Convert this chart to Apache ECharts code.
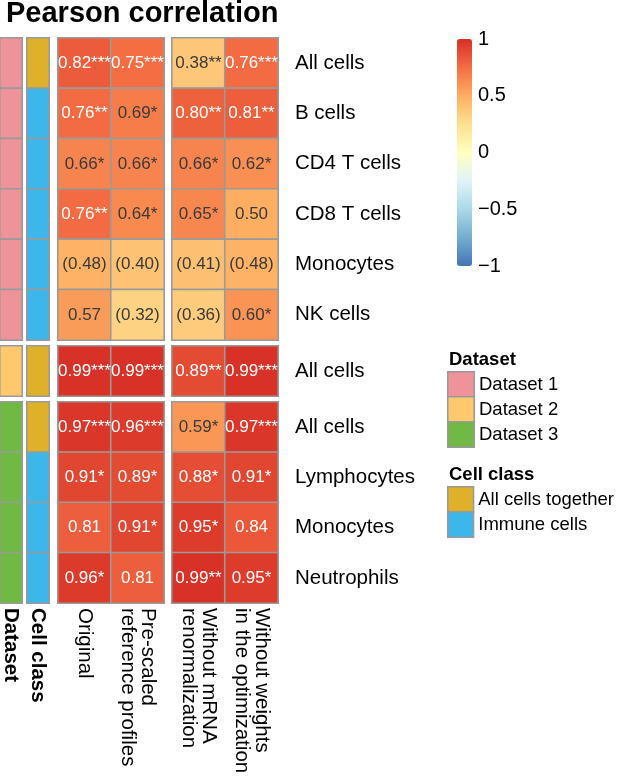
<!DOCTYPE html>
<html><head><meta charset="utf-8">
<script src="https://cdn.jsdelivr.net/npm/echarts@6/dist/echarts.min.js"></script>
<style>html,body{margin:0;padding:0;background:#fff}#c{width:617px;height:779px}</style>
</head><body><div id="c"></div>
<script>
// ---- data ----
const methods = ['Original', 'Pre-scaled\nreference profiles', 'Without mRNA\nrenormalization', 'Without weights\nin the optimization'];
const rowsBlock1 = ['All cells', 'B cells', 'CD4 T cells', 'CD8 T cells', 'Monocytes', 'NK cells'];
const rowsBlock2 = ['All cells'];
const rowsBlock3 = ['All cells', 'Lymphocytes', 'Monocytes', 'Neutrophils'];
const datasetOfRow = ['Dataset 1','Dataset 1','Dataset 1','Dataset 1','Dataset 1','Dataset 1','Dataset 2','Dataset 3','Dataset 3','Dataset 3','Dataset 3'];
const cellClassOfRow = ['All cells together','Immune cells','Immune cells','Immune cells','Immune cells','Immune cells','All cells together','All cells together','Immune cells','Immune cells','Immune cells'];
const original    = [0.82, 0.76, 0.66, 0.76, 0.48, 0.57, 0.99, 0.97, 0.91, 0.81, 0.96];
const preScaled   = [0.75, 0.69, 0.66, 0.64, 0.40, 0.32, 0.99, 0.96, 0.89, 0.91, 0.81];
const noRenorm    = [0.38, 0.80, 0.66, 0.65, 0.41, 0.36, 0.89, 0.59, 0.88, 0.95, 0.99];
const noWeights   = [0.76, 0.81, 0.62, 0.50, 0.48, 0.60, 0.99, 0.97, 0.91, 0.84, 0.95];
// significance marks ('ns' = shown in parentheses)
const originalSig  = ['***','**','*','**','ns','','***','***','*','','*'];
const preScaledSig = ['***','*','*','*','ns','ns','***','***','*','*',''];
const noRenormSig  = ['**','**','*','*','ns','ns','**','*','*','*','**'];
const noWeightsSig = ['***','**','*','','ns','*','***','***','*','','*'];
const datasetNames = ['Dataset 1', 'Dataset 2', 'Dataset 3'];
const cellClassNames = ['All cells together', 'Immune cells'];
const colorTicks = [-1, -0.5, 0, 0.5, 1];

// ---- styles ----
const datasetColors = {'Dataset 1':'#ef939b','Dataset 2':'#fdc96c','Dataset 3':'#6fb944'};
const cellClassColors = {'All cells together':'#dfb12b','Immune cells':'#3cb6eb'};
const FONT = '"Liberation Sans", Arial, Helvetica, sans-serif';
const BORDER = '#9a9a9a';

const values = [original, preScaled, noRenorm, noWeights];
const sigs = [originalSig, preScaledSig, noRenormSig, noWeightsSig];
const blocks = [
  {rows: rowsBlock1, start: 0, top: 38, height: 302},
  {rows: rowsBlock2, start: 6, top: 346, height: 50},
  {rows: rowsBlock3, start: 7, top: 402, height: 201}
];
const groups = [
  {kind: 'dataset', left: 0, width: 22, label: 'Dataset'},
  {kind: 'cellclass', left: 27, width: 22, label: 'Cell class'},
  {kind: 'values', left: 58, width: 106, cols: [0, 1]},
  {kind: 'values', left: 172, width: 106, cols: [2, 3]}
];

const grid = [], xAxis = [], yAxis = [], series = [];
const valueSeriesIdx = [];

function fmt(v, s) {
  const t = v.toFixed(2);
  return s === 'ns' ? '(' + t + ')' : t + s;
}

blocks.forEach((b, bi) => {
  groups.forEach((g, gi) => {
    const idx = grid.length;
    const isBottom = bi === blocks.length - 1;
    const isRight = gi === groups.length - 1;
    grid.push({left: g.left, top: b.top, width: g.width, height: b.height, containLabel: false});
    let xCats;
    if (g.kind === 'values') xCats = g.cols.map(c => methods[c]);
    else xCats = [g.label];
    xAxis.push({
      type: 'category', gridIndex: idx, data: xCats, position: 'bottom',
      axisLine: {show: false}, axisTick: {show: false}, splitLine: {show: false},
      axisLabel: {
        show: isBottom, rotate: -90, margin: 5, interval: 0,
        fontFamily: FONT, fontSize: 20.5, lineHeight: 20, color: '#000',
        fontWeight: g.kind === 'values' ? 'normal' : 'bold'
      }
    });
    yAxis.push({
      type: 'category', gridIndex: idx, data: b.rows, inverse: true, position: 'right',
      axisLine: {show: false}, axisTick: {show: false}, splitLine: {show: false},
      axisLabel: {show: isRight, margin: 17, fontFamily: FONT, fontSize: 20.5, color: '#000'}
    });
    let data = [];
    if (g.kind === 'values') {
      g.cols.forEach((c, xi) => {
        b.rows.forEach((r, yi) => {
          const v = values[c][b.start + yi];
          data.push({
            value: [xi, yi, v, fmt(v, sigs[c][b.start + yi])],
            label: {color: v >= 0.7 ? '#ffffff' : '#3a3a3a'}
          });
        });
      });
      valueSeriesIdx.push(series.length);
      series.push({
        type: 'heatmap', xAxisIndex: idx, yAxisIndex: idx, data: data,
        itemStyle: {borderColor: BORDER, borderWidth: 1.6},
        label: {show: true, formatter: p => p.value[3], fontFamily: FONT, fontSize: 17},
        emphasis: {disabled: true}
      });
    } else {
      b.rows.forEach((r, yi) => {
        const name = g.kind === 'dataset' ? datasetOfRow[b.start + yi] : cellClassOfRow[b.start + yi];
        const col = g.kind === 'dataset' ? datasetColors[name] : cellClassColors[name];
        data.push({value: [0, yi, 0], itemStyle: {color: col}});
      });
      series.push({
        type: 'heatmap', xAxisIndex: idx, yAxisIndex: idx, data: data,
        itemStyle: {borderColor: BORDER, borderWidth: 1.6},
        emphasis: {disabled: true}
      });
    }
  });
});

// colour bar tick axis
const cbIdx = grid.length;
grid.push({left: 457, top: 39, width: 15, height: 227});
xAxis.push({type: 'category', gridIndex: cbIdx, data: [''], show: false});
yAxis.push({
  type: 'value', gridIndex: cbIdx, min: colorTicks[0], max: colorTicks[colorTicks.length - 1], interval: 0.5,
  position: 'right', axisLine: {show: false}, axisTick: {show: false}, splitLine: {show: false},
  axisLabel: {margin: 6, fontFamily: FONT, fontSize: 20, color: '#000',
    formatter: v => String(v).replace('-', '\u2212'), showMinLabel: true, showMaxLabel: true}
});
series.push({type: 'line', xAxisIndex: cbIdx, yAxisIndex: cbIdx, data: [], silent: true});

// legend boxes
function legendGrid(names, colors, top) {
  const idx = grid.length;
  grid.push({left: 448, top: top, width: 26, height: 25 * names.length});
  xAxis.push({type: 'category', gridIndex: idx, data: [''], show: false});
  yAxis.push({
    type: 'category', gridIndex: idx, data: names, inverse: true, position: 'right',
    axisLine: {show: false}, axisTick: {show: false}, splitLine: {show: false},
    axisLabel: {margin: 5, fontFamily: FONT, fontSize: 18.5, color: '#000'}
  });
  series.push({
    type: 'heatmap', xAxisIndex: idx, yAxisIndex: idx,
    data: names.map((n, i) => ({value: [0, i, 0], itemStyle: {color: colors[n]}})),
    itemStyle: {borderColor: BORDER, borderWidth: 1.6},
    emphasis: {disabled: true}
  });
}
legendGrid(datasetNames, datasetColors, 372);
legendGrid(cellClassNames, cellClassColors, 487);

const option = {
  animation: false,
  backgroundColor: '#ffffff',
  title: [
    {text: 'Pearson correlation', left: 6, top: -1, padding: 0,
      textStyle: {fontFamily: FONT, fontSize: 29, fontWeight: 'bold', color: '#000'}},
    {text: 'Dataset', left: 449, top: 350, padding: 0,
      textStyle: {fontFamily: FONT, fontSize: 18.5, fontWeight: 'bold', color: '#000'}},
    {text: 'Cell class', left: 449, top: 465, padding: 0,
      textStyle: {fontFamily: FONT, fontSize: 18.5, fontWeight: 'bold', color: '#000'}}
  ],
  visualMap: {
    type: 'continuous', min: -1, max: 1, dimension: 2, seriesIndex: valueSeriesIdx,
    left: 457, top: 39, itemWidth: 15, itemHeight: 227, padding: 0,
    orient: 'vertical', calculable: false, text: null, showLabel: false,
    inRange: {color: ['#4575b4', '#74add1', '#abd9e9', '#e0f3f8', '#ffffbf', '#fee090', '#fdae61', '#f46d43', '#d73027']}
  },
  grid: grid, xAxis: xAxis, yAxis: yAxis, series: series
};
const chart = echarts.init(document.getElementById('c'), null, {renderer: 'canvas'});
chart.setOption(option);
</script></body></html>
